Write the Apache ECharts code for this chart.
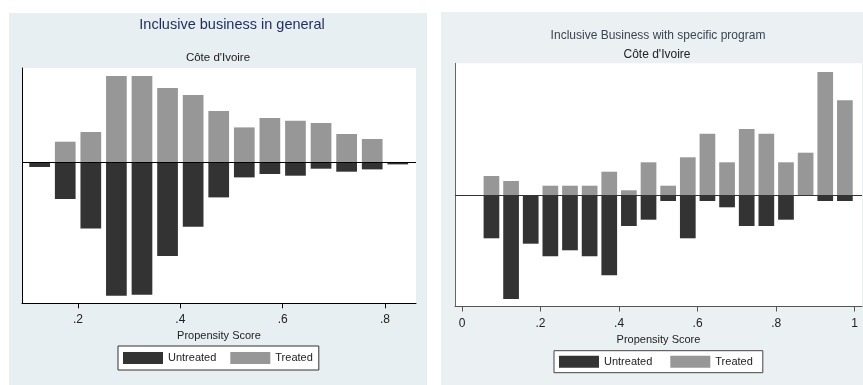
<!DOCTYPE html>
<html>
<head>
<meta charset="utf-8">
<title>Propensity score distributions – Côte d'Ivoire</title>
<script src="https://cdn.jsdelivr.net/npm/echarts@6/dist/echarts.min.js"></script>
<style>
  html, body { margin: 0; padding: 0; background: #ffffff; }
  #chart { width: 863px; height: 385px; }
</style>
</head>
<body>
<div id="chart"></div>
<script>
// Panel 1: inclusive business in general (bin midpoints, bin width .05)
const generalBins = [0.125, 0.175, 0.225, 0.275, 0.325, 0.375, 0.425, 0.475,
                     0.525, 0.575, 0.625, 0.675, 0.725, 0.775, 0.825];
const generalTreated = [0, 2.1, 3.07, 8.67, 8.67, 7.47, 6.77, 5.17,
                        3.53, 4.47, 4.2, 3.97, 2.87, 2.37, 0];
const generalUntreated = [-0.43, -3.63, -6.57, -13.3, -13.2, -9.33, -6.4, -3.47,
                          -1.47, -1.13, -1.3, -0.6, -0.9, -0.67, -0.17];

// Panel 2: inclusive business with a specific program
const programBins = [0.075, 0.125, 0.175, 0.225, 0.275, 0.325, 0.375, 0.425, 0.475, 0.525,
                     0.575, 0.625, 0.675, 0.725, 0.775, 0.825, 0.875, 0.925, 0.975];
const programTreated = [1.9, 1.4, 0, 0.93, 0.93, 0.93, 2.33, 0.47, 3.27, 0.93,
                        3.77, 6.13, 3.27, 6.6, 6.13, 3.27, 4.23, 12.3, 9.47];
const programUntreated = [-4.33, -10.4, -4.87, -6.13, -5.53, -6.13, -8.03, -3.1, -2.47, -0.6,
                          -4.33, -0.6, -1.23, -3.1, -3.1, -2.47, 0, -0.6, -0.6];

// Axis ticks
const generalTickValues = [0.2, 0.4, 0.6, 0.8];
const generalTickLabels = ['.2', '.4', '.6', '.8'];
const programTickValues = [0, 0.2, 0.4, 0.6, 0.8, 1];
const programTickLabels = ['0', '.2', '.4', '.6', '.8', '1'];

const REG = "'Liberation Sans', Arial, sans-serif";
const DARK = '#333333';
const LIGHT = '#979797';

function pairs(bins, vals) {
  return bins.map((x, i) => [x, vals[i]]).filter(p => p[1] !== 0);
}
function labeler(values, labels) {
  return v => {
    const i = values.findIndex(t => Math.abs(t - v) < 1e-6);
    return i < 0 ? '' : labels[i];
  };
}

function xAxisFor(gridIndex, min, max, tickValues, tickLabels, color, margin, nameGap) {
  return {
    type: 'value', gridIndex, min, max,
    axisLine: { show: true, onZero: false, lineStyle: { color, width: 1 } },
    axisTick: { show: true, length: 5, customValues: tickValues, lineStyle: { color } },
    axisLabel: {
      customValues: tickValues, formatter: labeler(tickValues, tickLabels),
      margin, color: '#222', fontSize: 12, fontFamily: REG
    },
    splitLine: { show: false },
    name: 'Propensity Score', nameLocation: 'middle', nameGap,
    nameTextStyle: { color: '#222', fontSize: 11, fontFamily: REG }
  };
}
function yAxisFor(gridIndex, min, max, color) {
  return {
    type: 'value', gridIndex, min, max,
    axisLine: { show: true, onZero: false, lineStyle: { color, width: 1 } },
    axisTick: { show: false }, axisLabel: { show: false },
    splitLine: { show: false }
  };
}
function barPair(axisIndex, bins, treated, untreated, width, zeroColor) {
  return [
    {
      name: 'Treated', type: 'bar', xAxisIndex: axisIndex, yAxisIndex: axisIndex,
      data: pairs(bins, treated), barWidth: width, barGap: '-100%',
      itemStyle: { color: LIGHT }, silent: true,
      markLine: {
        silent: true, symbol: 'none', label: { show: false },
        lineStyle: { color: zeroColor, width: 1, type: 'solid' },
        data: [{ yAxis: 0 }], z: 10
      }
    },
    {
      name: 'Untreated', type: 'bar', xAxisIndex: axisIndex, yAxisIndex: axisIndex,
      data: pairs(bins, untreated), barWidth: width, barGap: '-100%',
      itemStyle: { color: DARK }, silent: true
    }
  ];
}
function legendFor(left, top, gap, padding, border) {
  return {
    left, top, orient: 'horizontal',
    data: ['Untreated', 'Treated'], icon: 'rect',
    itemWidth: 40, itemHeight: 12, itemGap: gap,
    padding, borderColor: border, borderWidth: 1, backgroundColor: '#ffffff',
    selectedMode: false,
    textStyle: { color: '#222', fontSize: 11, fontFamily: REG }
  };
}

const chart = echarts.init(document.getElementById('chart'), null, { renderer: 'canvas' });
chart.setOption({
  animation: false,
  backgroundColor: '#ffffff',
  graphic: [
    { type: 'rect', z: -10, shape: { x: 9, y: 13, width: 418, height: 372 }, style: { fill: '#e7eff2' } },
    { type: 'rect', z: -10, shape: { x: 441, y: 12, width: 422, height: 373 }, style: { fill: '#ebf0f3' } },
    { type: 'text', x: 232, y: 24.5, style: { text: 'Inclusive business in general', font: '14.5px ' + REG, fill: '#1f2d5c', textAlign: 'center', textVerticalAlign: 'middle' } },
    { type: 'text', x: 218, y: 57.5, style: { text: "Côte d'Ivoire", font: '11.5px ' + REG, fill: '#1a1a1a', textAlign: 'center', textVerticalAlign: 'middle' } },
    { type: 'text', x: 658, y: 35.5, style: { text: 'Inclusive Business with specific program', font: '12px ' + REG, fill: '#3c4452', textAlign: 'center', textVerticalAlign: 'middle' } },
    { type: 'text', x: 657, y: 55, style: { text: "Côte d'Ivoire", font: '12px ' + REG, fill: '#222222', textAlign: 'center', textVerticalAlign: 'middle' } }
  ],
  grid: [
    { left: 22, top: 68, width: 394, height: 235.3, show: true, backgroundColor: '#ffffff', borderWidth: 0 },
    { left: 455, top: 63.3, width: 407, height: 243.2, show: true, backgroundColor: '#ffffff', borderWidth: 0 }
  ],
  xAxis: [
    xAxisFor(0, 0.0905, 0.8606, generalTickValues, generalTickLabels, '#000000', 10, 22),
    xAxisFor(1, -0.0178, 1.0186, programTickValues, programTickLabels, '#555555', 11, 23)
  ],
  yAxis: [
    yAxisFor(0, -14.06, 9.47, '#000000'),
    yAxisFor(1, -11.15, 13.17, '#666666')
  ],
  legend: [
    legendFor(118, 346, 14, [6, 6, 6, 5], '#333333'),
    legendFor(554, 350.7, 18, [5, 10, 5, 5], '#444444')
  ],
  series: [
    ...barPair(0, generalBins, generalTreated, generalUntreated, 20.7, '#000000'),
    ...barPair(1, programBins, programTreated, programUntreated, 15.7, '#333333')
  ]
});
</script>
</body>
</html>
